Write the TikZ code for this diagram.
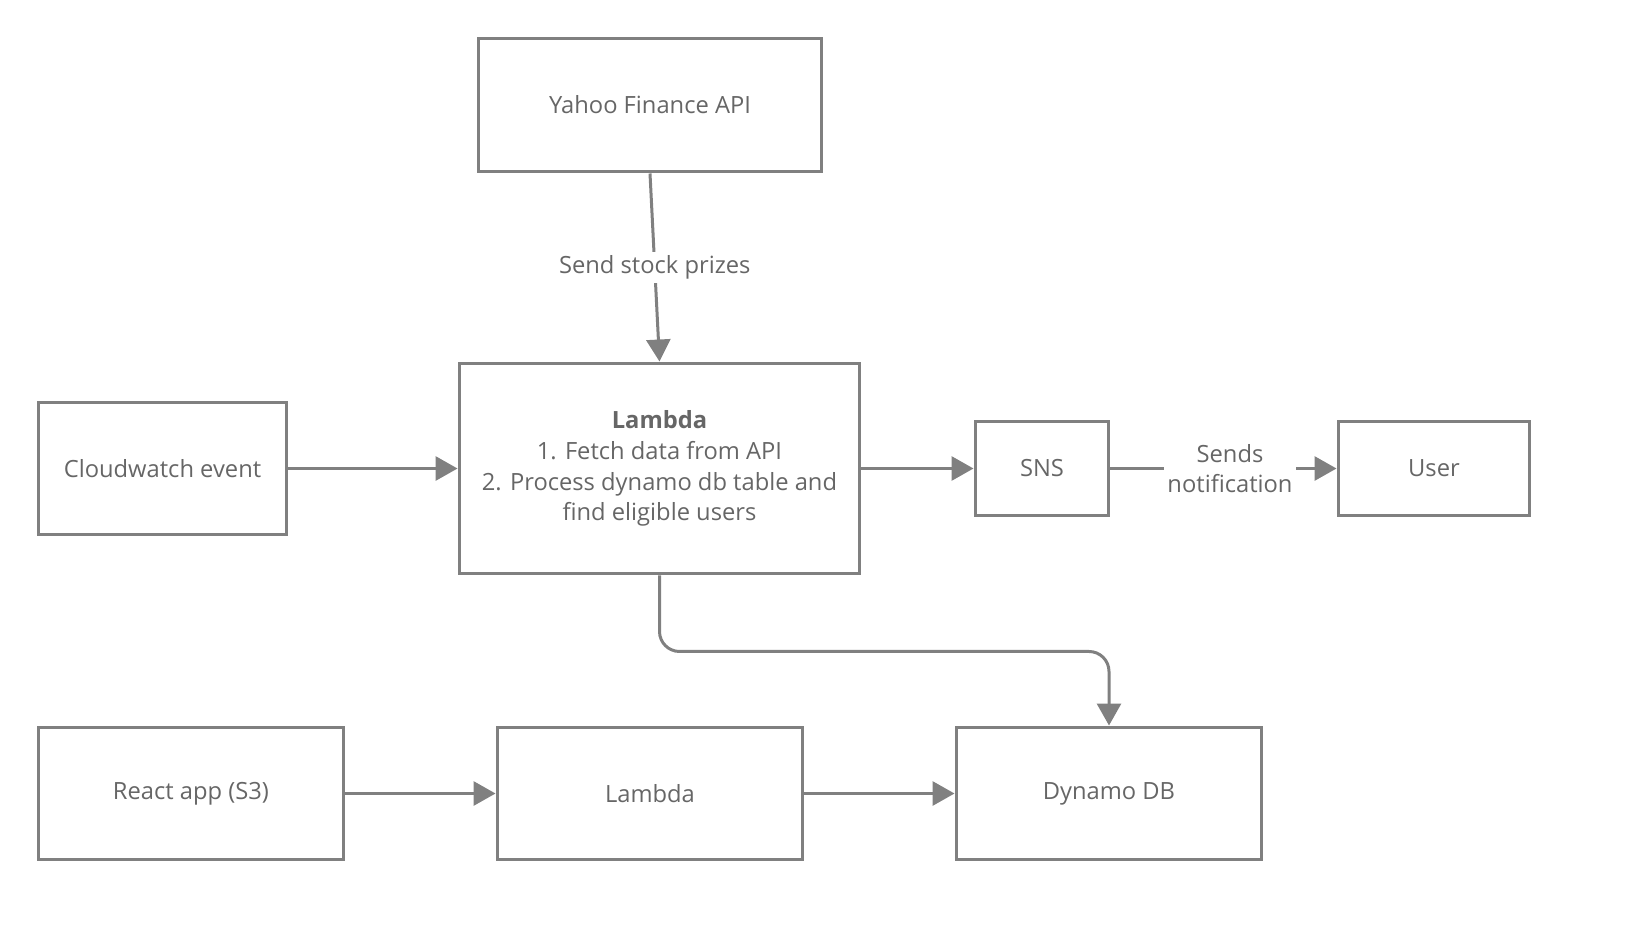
\documentclass[tikz,border=0pt]{standalone}
\usepackage{fontspec}
\setmainfont{Open Sans}
\usepackage{tikz}
\usetikzlibrary{positioning,arrows.meta}
\definecolor{linegray}{HTML}{808080}
\definecolor{textgray}{HTML}{666666}
\tikzset{box/.style = {rectangle,draw=linegray,line width=0.06cm,text=textgray,align=center,inner sep=0pt},
         flow/.style = {draw=linegray,line width=0.06cm,-{Triangle[length=0.44cm,width=0.48cm]}},
         lbl/.style = {fill=white,text=textgray,align=center,inner sep=2pt}}

\begin{document}
\begin{tikzpicture}[x=0.02cm,y=-0.02cm,font=\fontsize{13.5}{17.5}\selectfont]
        \useasboundingbox (0,0) rectangle (1640,940);
        % top row
        \node [box,minimum width=6.88cm,minimum height=2.68cm] (yahoo) at (650,105) {Yahoo Finance API};
        % middle row
        \node [box,minimum width=4.98cm,minimum height=2.66cm] (cloudwatch) at (162.5,468.5) {Cloudwatch event};
        \node [box,minimum width=8.02cm,minimum height=4.22cm] (lambda) at (659.5,468.5) {\textbf{Lambda}\\1. Fetch data from API\\2. Process dynamo db table and\\find eligible users};
        \node [box,minimum width=2.68cm,minimum height=1.9cm] (sns) at (1042,468.5) {SNS};
        \node [box,minimum width=3.84cm,minimum height=1.9cm] (user) at (1434,468.5) {User};
        % bottom row
        \node [box,minimum width=6.12cm,minimum height=2.66cm] (react) at (191,793.5) {React app (S3)};
        \node [box,minimum width=6.12cm,minimum height=2.66cm] (lambdatwo) at (650,793.5) {Lambda};
        \node [box,minimum width=6.12cm,minimum height=2.66cm] (dynamo) at (1109,793.5) {Dynamo DB};
        % connectors
        \draw [flow] (yahoo.south) -- node [lbl] {Send stock prizes} (lambda.north);
        \draw [flow] (cloudwatch.east) -- (lambda.west);
        \draw [flow] (lambda.east) -- (sns.west);
        \draw [flow] (sns.east) -- node [lbl,xshift=0.13cm] {Sends\\notification} (user.west);
        \draw [flow,rounded corners=0.4cm] (lambda.south) -- ++(0,76) -| (dynamo.north);
        \draw [flow] (react.east) -- (lambdatwo.west);
        \draw [flow] (lambdatwo.east) -- (dynamo.west);
\end{tikzpicture}
\end{document}
